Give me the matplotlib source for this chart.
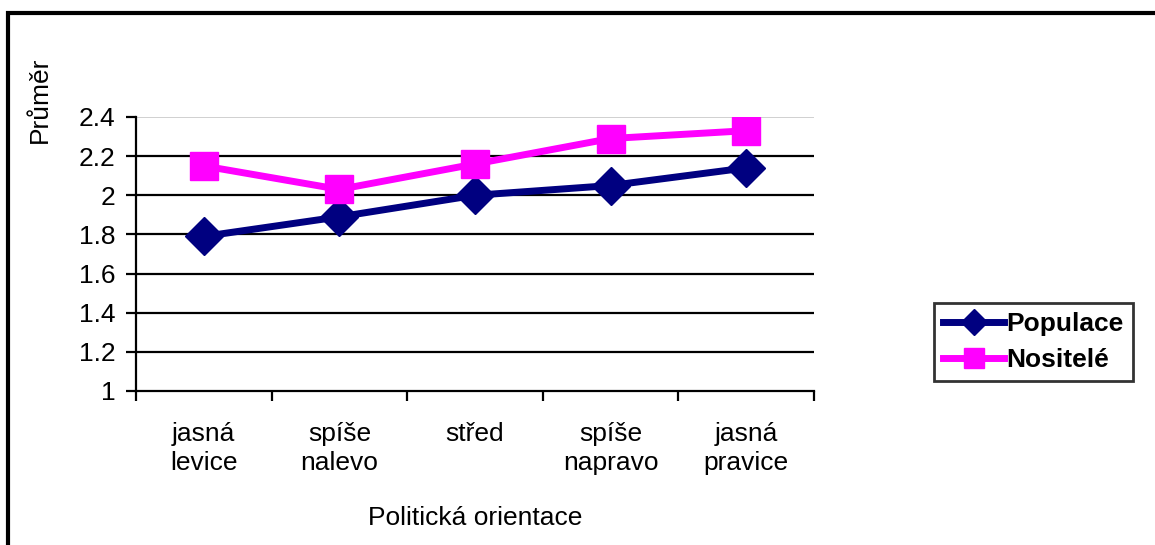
import matplotlib
matplotlib.use("Agg")
from matplotlib import pyplot as plt
from matplotlib.patches import Rectangle
import numpy as np

plt.rcParams['font.family'] = ['Liberation Sans', 'DejaVu Sans']

categories = ['jasná\nlevice', 'spíše\nnalevo', 'střed', 'spíše\nnapravo', 'jasná\npravice']
populace = [1.79, 1.89, 2.00, 2.05, 2.14]
nositele = [2.15, 2.03, 2.16, 2.29, 2.33]
yticks = [1, 1.2, 1.4, 1.6, 1.8, 2, 2.2, 2.4]
ytick_labels = ['1', '1.2', '1.4', '1.6', '1.8', '2', '2.2', '2.4']

FS = 19
W, H = 1155, 545
fig = plt.figure(figsize=(W / 100, H / 100), dpi=100)
ax = fig.add_axes([136 / W, 1 - 391 / H, (814 - 136) / W, (391 - 117) / H])

# outer chart frame
fig.patches.append(Rectangle((8 / W, -0.05), 1.2, 1 - 13 / H + 0.05, transform=fig.transFigure,
                             fill=False, edgecolor='black', linewidth=3, zorder=0))

x = np.arange(len(categories))
for yv in yticks[1:-1]:
    ax.axhline(yv, color='black', linewidth=1.6, zorder=1)
ax.axhline(2.4, color='#c8c8c8', linewidth=1.2, zorder=1)

ax.plot(x, populace, color='#000080', linewidth=5, marker='D', markersize=19,
        label='Populace', zorder=3)
ax.plot(x, nositele, color='#ff00ff', linewidth=5, marker='s', markersize=19.5,
        label='Nositelé', zorder=3)

ax.set_xlim(-0.5, len(categories) - 0.5)
ax.set_ylim(1, 2.4)
ax.set_yticks(yticks)
ax.set_yticklabels(ytick_labels, fontsize=FS)
ax.set_xticks(x)
ax.set_xticklabels(categories, fontsize=FS, linespacing=1.3)
ax.tick_params(axis='x', length=0, pad=22)
ax.set_xticks(np.arange(len(categories) + 1) - 0.5, minor=True)
ax.tick_params(axis='x', which='minor', length=7, width=1.6, direction='out')
ax.tick_params(axis='y', length=7, width=1.6, direction='out', pad=8)

for side in ['top', 'right']:
    ax.spines[side].set_visible(False)
ax.spines['left'].set_linewidth(1.6)
ax.spines['bottom'].set_linewidth(1.6)

ax.set_xlabel('Politická orientace', fontsize=FS, labelpad=22)
fig.text(40 / W, 1 - 100 / H, 'Průměr', rotation=90, fontsize=FS, ha='center', va='center')

leg = ax.legend(loc='center left', bbox_to_anchor=(934 / W, 1 - 342 / H), bbox_transform=fig.transFigure,
                frameon=True, fancybox=False, prop={'weight': 'bold', 'size': FS},
                handlelength=2.3, handletextpad=0.1, borderpad=0.35, labelspacing=0.45,
                borderaxespad=0, markerscale=0.72)
leg.get_frame().set_edgecolor('black')
leg.get_frame().set_linewidth(2)

fig.savefig('out.png', dpi=100)
